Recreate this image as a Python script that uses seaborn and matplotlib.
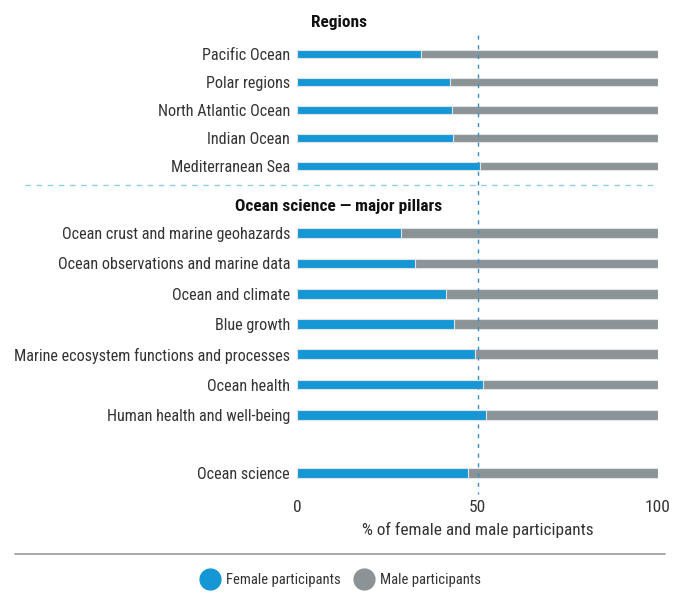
import matplotlib
matplotlib.use("Agg")
import matplotlib.pyplot as plt
from matplotlib.lines import Line2D
import matplotlib.transforms as mtransforms
from matplotlib import font_manager
import seaborn as sns
import pandas as pd

# data (% female participants)
regions = ["Pacific Ocean", "Polar regions", "North Atlantic Ocean", "Indian Ocean", "Mediterranean Sea"]
regions_female = [34.3, 42.5, 42.9, 43.3, 50.7]

pillars = ["Ocean crust and marine geohazards", "Ocean observations and marine data",
           "Ocean and climate", "Blue growth", "Marine ecosystem functions and processes",
           "Ocean health", "Human health and well-being"]
pillars_female = [28.7, 32.6, 41.4, 43.4, 49.2, 51.6, 52.3]

overall = ["Ocean science"]
overall_female = [47.3]

BLUE = "#1597d5"
GREY = "#8c9397"
TXT = "#333333"

sns.set_theme(style="white")
installed = {f.name for f in font_manager.fontManager.ttflist}
fams = [f for f in ["Roboto Condensed", "Liberation Sans Narrow", "DejaVu Sans Condensed", "Roboto"]
        if f in installed] + ["DejaVu Sans"]
plt.rcParams["font.family"] = fams

fig = plt.figure(figsize=(6.77, 5.96), dpi=100)
left, width = 297 / 677, 361 / 677
ax_reg = fig.add_axes([left, 1 - 180 / 596, width, 140 / 596])
ax_pil = fig.add_axes([left, 1 - 430 / 596, width, 212 / 596])
ax_all = fig.add_axes([left, 1 - 488 / 596, width, 30 / 596])


def draw(ax, names, female):
    df = pd.DataFrame({"name": names, "female": female})
    df["male"] = 100 - df["female"]
    df["total"] = df["female"] + df["male"]
    sns.barplot(data=df, y="name", x="total", color=GREY, width=0.32,
                edgecolor="#dfe4e6", linewidth=0.8, saturation=1, ax=ax)
    sns.barplot(data=df, y="name", x="female", color=BLUE, width=0.32,
                edgecolor="#dfe4e6", linewidth=0.8, saturation=1, ax=ax)
    ax.set_xlim(0, 100)
    ax.set_ylabel("")
    ax.set_xlabel("")
    sns.despine(ax=ax, left=True, bottom=True)
    ax.tick_params(axis="y", length=0, pad=5, labelsize=11.6, labelcolor=TXT)
    ax.tick_params(axis="x", length=0)


draw(ax_reg, regions, regions_female)
draw(ax_pil, pillars, pillars_female)
draw(ax_all, overall, overall_female)

ax_reg.set_xticks([])
ax_pil.set_xticks([])
ax_all.set_xticks([0, 50, 100])
ax_all.tick_params(axis="x", labelsize=12.5, labelcolor=TXT, pad=9)
ax_all.set_xlabel("% of female and male participants", fontsize=12.4, color=TXT, labelpad=5)

# section headers
fig.text(0.5, 1 - 22 / 596, "Regions", ha="center", va="center",
         fontsize=12.4, fontweight="bold", color="#111111")
fig.text(0.5, 1 - 206 / 596, "Ocean science \u2014 major pillars", ha="center", va="center",
         fontsize=12.4, fontweight="bold", color="#111111")

# 50% reference line across all panels
trans = mtransforms.blended_transform_factory(ax_all.transData, fig.transFigure)
fig.add_artist(Line2D([50, 50], [1 - 35 / 596, 1 - 494 / 596], transform=trans,
                      color="#3b8fc4", lw=1, ls=(0, (3, 4))))

# separator between sections
fig.add_artist(Line2D([25 / 677, 657 / 677], [1 - 185 / 596] * 2, transform=fig.transFigure,
                      color="#8ccfee", lw=1, ls=(0, (4, 4))))

# rule above legend
fig.add_artist(Line2D([15 / 677, 665 / 677], [1 - 554 / 596] * 2, transform=fig.transFigure,
                      color="#9a9a9a", lw=1.2))

handles = [Line2D([], [], marker="o", ls="", markersize=15, color=BLUE),
           Line2D([], [], marker="o", ls="", markersize=15, color=GREY)]
fig.legend(handles, ["Female participants", "Male participants"], loc="center",
           bbox_to_anchor=(0.5, 1 - 580 / 596), ncol=2, frameon=False,
           handletextpad=0.1, columnspacing=0.6, fontsize=10.5, labelcolor=TXT)

fig.savefig("out.png", dpi=100)
